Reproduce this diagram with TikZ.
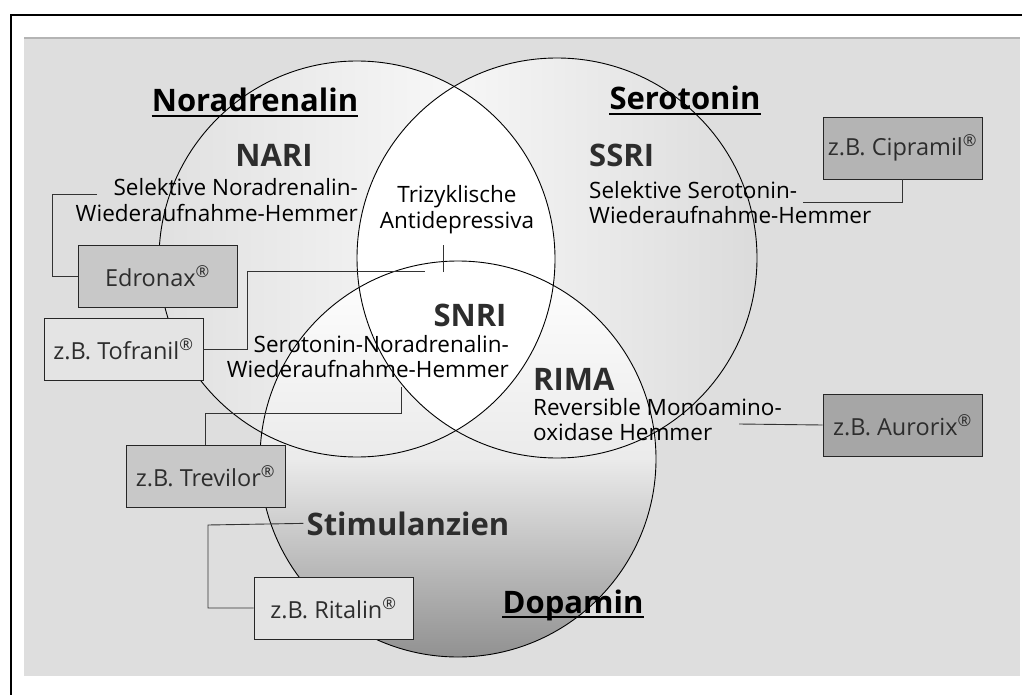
\documentclass[tikz,border=0pt]{standalone}
\usepackage{fontspec}
\setmainfont{Open Sans}
\usepackage{xcolor}
\usepackage{tikz}
\definecolor{panelgray}{RGB}{222,222,222}
\definecolor{edgegray}{RGB}{180,180,180}
\definecolor{textgray}{RGB}{45,45,45}
\definecolor{boxlight}{RGB}{228,228,228}
\definecolor{boxmid}{RGB}{200,200,200}
\definecolor{boxdark}{RGB}{166,166,166}
\definecolor{shadegray}{RGB}{145,145,145}
\usetikzlibrary{positioning, calc}

\tikzset{
  drugbox/.style={draw=black!85, line width=0.9pt, minimum width=159pt, minimum height=62pt,
                  inner sep=0pt, text=textgray, font=\fontsize{23.5}{28}\selectfont},
  transmitter/.style={font=\fontsize{31}{36}\selectfont\bfseries, inner sep=0pt, anchor=base},
  classname/.style={font=\fontsize{31}{36}\selectfont\bfseries, text=textgray, inner sep=0pt, anchor=base},
  classtext/.style={font=\fontsize{22.5}{25}\selectfont, inner sep=0pt},
  link/.style={draw=black!80, line width=0.9pt}
}

\begin{document}
\begin{tikzpicture}[x=1pt, y=-1pt]
        \useasboundingbox (0,0) rectangle (1022,695);
        \fill[white] (0,0) rectangle (1022,695);
        \draw[line width=1.2pt] (11,695) -- (11,15) -- (1022,15);
        \fill[panelgray] (24,38) rectangle (1020,676);
        \draw[edgegray, line width=1.5pt] (24,38) -- (1020,38);

        \coordinate (nc) at (357,259);
        \coordinate (sc) at (557,258);
        \coordinate (dc) at (458,459);

        \shade[left color=black!12, right color=white] (nc) circle[radius=198];
        \shade[left color=white, right color=black!14] (sc) circle[radius=200];
        \shade[top color=white, bottom color=shadegray, middle color=black!8] (dc) circle[radius=198];
        \begin{scope}
            \clip (nc) circle[radius=198];
            \fill[white] (sc) circle[radius=200];
        \end{scope}
        \draw[line width=0.9pt] (nc) circle[radius=198];
        \draw[line width=0.9pt] (sc) circle[radius=200];
        \draw[line width=0.9pt] (dc) circle[radius=198];

        \node[transmitter] (noradrenalin) at (255,112) {Noradrenalin};
        \node[transmitter] (serotonin) at (685,110) {Serotonin};
        \node[transmitter] (dopamin) at (573,613) {Dopamin};
        \foreach \n in {noradrenalin, serotonin, dopamin}
            \draw[line width=1.8pt] ([yshift=-4pt]\n.base west) -- ([yshift=-4pt]\n.base east);

        \node[classname] (nari) at (274,167) {NARI};
        \node[classtext, align=right, anchor=base east] (naritext) at (358,221)
            {Selektive Noradrenalin-\\Wiederaufnahme-Hemmer};
        \node[classtext, align=center, anchor=base] (tca) at (457,228)
            {Trizyklische\\Antidepressiva};
        \node[classname, anchor=base west] (ssri) at (589,167) {SSRI};
        \node[classtext, align=left, anchor=base west] (ssritext) at (589,223)
            {Selektive Serotonin-\\Wiederaufnahme-Hemmer};
        \node[classname] (snri) at (470,326) {SNRI};
        \node[classtext, align=right, anchor=base east] (snritext) at (509,377)
            {Serotonin-Noradrenalin-\\Wiederaufnahme-Hemmer};
        \node[classname, anchor=base west] (rima) at (533,390) {RIMA};
        \node[classtext, align=left, anchor=base west] (rimatext) at (533,440)
            {Reversible Monoamino-\\oxidase Hemmer};
        \node[classname] (stimulanzien) at (408,535) {Stimulanzien};

        \node[drugbox, fill=boxmid!90!black] (cipramil) at (902.5,148) {z.B. Cipramil\textsuperscript{®}};
        \node[drugbox, fill=boxmid] (edronax) at (157.5,276.5) {Edronax\textsuperscript{®}};
        \node[drugbox, fill=boxlight] (tofranil) at (123.5,349.5) {z.B. Tofranil\textsuperscript{®}};
        \node[drugbox, fill=boxmid] (trevilor) at (205.5,476) {z.B. Trevilor\textsuperscript{®}};
        \node[drugbox, fill=boxlight] (ritalin) at (333.5,608) {z.B. Ritalin\textsuperscript{®}};
        \node[drugbox, fill=boxdark] (aurorix) at (902.5,425) {z.B. Aurorix\textsuperscript{®}};

        \coordinate (nariend) at (97,194);
        \coordinate (tcaend) at (425,271);
        \coordinate (tcatick) at (443,272);
        \coordinate (ssriend) at (803,202);
        \coordinate (snriend) at (401,387);
        \coordinate (rimaend) at (739,424);

        \draw[link] (nariend) -- (52,194) |- (edronax.west);
        \draw[link] (tofranil.east) -- (247,349.5) |- (tcaend);
        \draw[link] (tcatick) -- ++(0,-27);
        \draw[link] (cipramil.south) |- (ssriend);
        \draw[link] (trevilor.north) |- (snriend |- 0,413) -- (snriend);
        \draw[link] ([xshift=-3pt]stimulanzien.west) -- (208,525) |- (ritalin.west);
        \draw[link] (rimaend) -- (aurorix.west);
    \end{tikzpicture}
\end{document}
